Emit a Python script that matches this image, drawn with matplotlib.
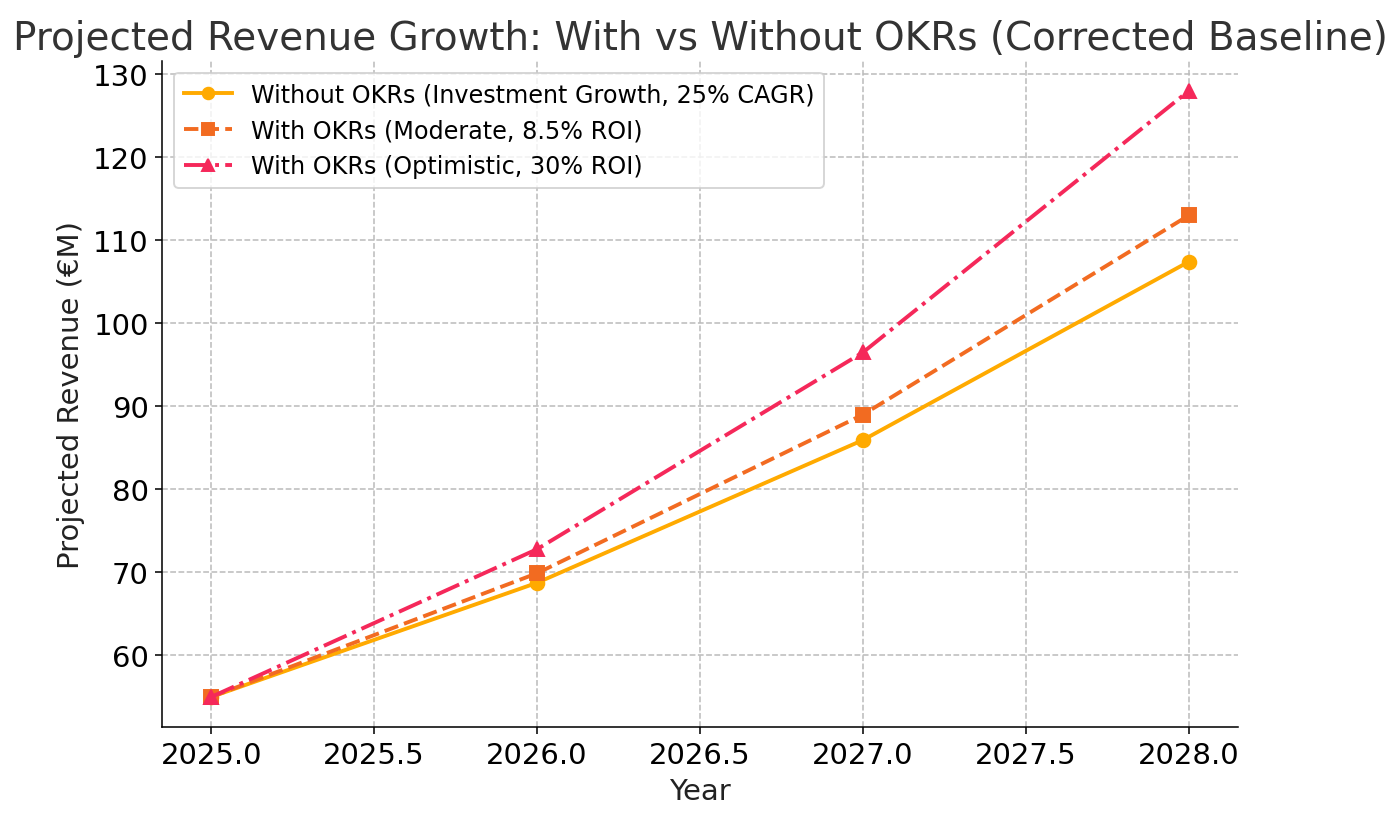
import matplotlib
matplotlib.use('Agg')
import matplotlib.pyplot as plt

years = [2025, 2026, 2027, 2028]
without_okrs = [55.0, 68.75, 85.94, 107.42]
moderate = [55.0, 69.9, 89.0, 113.0]
optimistic = [55.0, 72.8, 96.5, 128.0]

labels = [
    'Without OKRs (Investment Growth, 25% CAGR)',
    'With OKRs (Moderate, 8.5% ROI)',
    'With OKRs (Optimistic, 30% ROI)',
]

plt.rcParams['font.family'] = ['DejaVu Sans']
fig, ax = plt.subplots(figsize=(10, 5.864), dpi=140)

ax.plot(years, without_okrs, marker='o', linestyle='-', color='#FFAA00',
        linewidth=2, markersize=7, label=labels[0])
ax.plot(years, moderate, marker='s', linestyle='--', color='#F26B21',
        linewidth=2, markersize=7, label=labels[1])
ax.plot(years, optimistic, marker='^', linestyle='-.', color='#F5285A',
        linewidth=2, markersize=7, label=labels[2])

ax.set_title('Projected Revenue Growth: With vs Without OKRs (Corrected Baseline)',
             fontsize=20, color='#333333')
ax.set_xlabel('Year', fontsize=15, color='#222222')
ax.set_ylabel('Projected Revenue (€M)', fontsize=15, color='#222222')
ax.tick_params(labelsize=15)
ax.grid(True, linestyle='--', color='#bbbbbb', linewidth=0.8)
ax.spines['top'].set_visible(False)
ax.spines['right'].set_visible(False)
ax.legend(loc='upper left', fontsize=12.3, markerscale=0.85)

fig.subplots_adjust(left=0.116, right=0.884, top=0.925, bottom=0.113)
fig.savefig('out.png', dpi=140)
